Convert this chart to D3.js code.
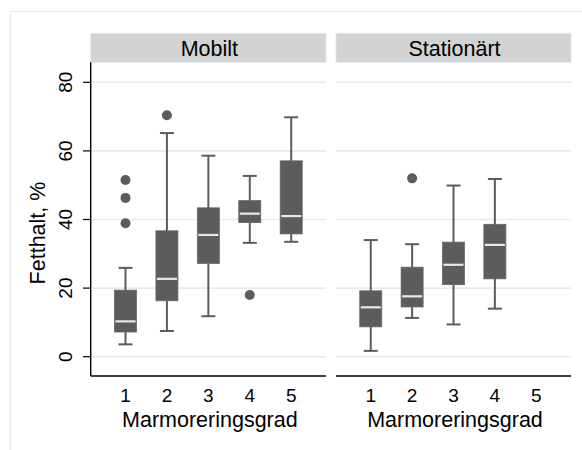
<!DOCTYPE html>
<html>
<head>
<meta charset="utf-8">
<script src="https://cdn.jsdelivr.net/npm/d3@7"></script>
<style>
  html, body { margin: 0; padding: 0; background: #ffffff; }
  svg { display: block; font-family: "Liberation Sans", Arial, sans-serif; }
</style>
</head>
<body>
<svg id="chart" width="582" height="450"></svg>
<script>
// Panels (by-groups) and grades on the x axis
const panels = ["Mobilt", "Stationärt"];
const grades = [1, 2, 3, 4, 5];
const yTicks = [0, 20, 40, 60, 80];

// Box summaries per grade: [lower whisker, Q1, median, Q3, upper whisker]
const mobiltBoxes = [
  [3.6, 7.2, 10.3, 19.4, 25.9],
  [7.5, 16.3, 22.7, 36.7, 65.2],
  [11.8, 27.2, 35.5, 43.4, 58.6],
  [33.2, 39.1, 41.7, 45.5, 52.7],
  [33.5, 35.8, 41.0, 57.1, 69.8]
];
const stationartBoxes = [
  [1.7, 8.7, 14.4, 19.2, 34.0],
  [11.3, 14.5, 17.6, 26.1, 32.8],
  [9.4, 21.0, 26.8, 33.4, 49.9],
  [14.0, 22.7, 32.6, 38.6, 51.8],
  null
];

// Outside values: [grade, value]
const mobiltOutliers = [[1, 51.5], [1, 46.3], [1, 38.9], [2, 70.4], [4, 18.0]];
const stationartOutliers = [[2, 52.0]];

const boxesByPanel = [mobiltBoxes, stationartBoxes];
const outliersByPanel = [mobiltOutliers, stationartOutliers];

const svg = d3.select("#chart");

// outer frame
svg.append("rect")
  .attr("x", 10.5).attr("y", 11.5)
  .attr("width", 700).attr("height", 600)
  .attr("fill", "none").attr("stroke", "#ebebeb").attr("stroke-width", 1.2);

const plotTop = 62.3, plotBottom = 376;
const stripTop = 33.3;
const panelX = [[90.7, 326], [336, 571]];

const y = d3.scaleLinear().domain([0, 80]).range([356.7, 82.3]);

const boxFill = "#5c5c5c";
const medianColor = "#e9e9e9";
const boxW = 22, capW = 14;
const titleSize = 21.5, tickSize = 19;

panels.forEach((name, p) => {
  const [x0, x1] = panelX[p];
  const x = d3.scaleLinear().domain([0.16, 5.84]).range([x0, x1]);
  const g = svg.append("g");

  // strip
  g.append("rect")
    .attr("x", x0).attr("y", stripTop)
    .attr("width", x1 - x0).attr("height", plotTop - stripTop)
    .attr("fill", "#d3d3d3").attr("stroke", "#dbe8ef").attr("stroke-width", 1);
  g.append("text")
    .attr("x", (x0 + x1) / 2 + 1).attr("y", 55.5)
    .attr("text-anchor", "middle")
    .attr("font-size", titleSize).attr("fill", "#000")
    .text(name);

  // grid
  g.selectAll("line.grid").data(yTicks).join("line")
    .attr("class", "grid")
    .attr("x1", x0).attr("x2", x1)
    .attr("y1", d => y(d)).attr("y2", d => y(d))
    .attr("stroke", "#eaeaea").attr("stroke-width", 1.6);

  // x axis line and labels
  g.append("line")
    .attr("x1", x0).attr("x2", x1)
    .attr("y1", plotBottom).attr("y2", plotBottom)
    .attr("stroke", "#000").attr("stroke-width", 1.4);
  g.selectAll("text.xt").data(grades).join("text")
    .attr("class", "xt")
    .attr("x", d => x(d)).attr("y", 402)
    .attr("text-anchor", "middle")
    .attr("font-size", tickSize).attr("fill", "#000")
    .text(d => d);
  g.append("text")
    .attr("x", (x0 + x1) / 2 + 1.5).attr("y", 426.5)
    .attr("text-anchor", "middle")
    .attr("font-size", titleSize).attr("fill", "#000")
    .text("Marmoreringsgrad");

  // boxes
  const data = boxesByPanel[p]
    .map((b, i) => ({ grade: grades[i], b }))
    .filter(d => d.b);

  const bg = g.selectAll("g.box").data(data).join("g").attr("class", "box");
  // whiskers
  bg.append("line")
    .attr("x1", d => x(d.grade)).attr("x2", d => x(d.grade))
    .attr("y1", d => y(d.b[0])).attr("y2", d => y(d.b[4]))
    .attr("stroke", boxFill).attr("stroke-width", 2);
  bg.append("line")
    .attr("x1", d => x(d.grade) - capW / 2).attr("x2", d => x(d.grade) + capW / 2)
    .attr("y1", d => y(d.b[0])).attr("y2", d => y(d.b[0]))
    .attr("stroke", boxFill).attr("stroke-width", 2);
  bg.append("line")
    .attr("x1", d => x(d.grade) - capW / 2).attr("x2", d => x(d.grade) + capW / 2)
    .attr("y1", d => y(d.b[4])).attr("y2", d => y(d.b[4]))
    .attr("stroke", boxFill).attr("stroke-width", 2);
  // box body
  bg.append("rect")
    .attr("x", d => x(d.grade) - boxW / 2)
    .attr("y", d => y(d.b[3]))
    .attr("width", boxW)
    .attr("height", d => y(d.b[1]) - y(d.b[3]))
    .attr("fill", boxFill).attr("stroke", "#666").attr("stroke-width", 0.8);
  // median
  bg.append("line")
    .attr("x1", d => x(d.grade) - boxW / 2 + 1).attr("x2", d => x(d.grade) + boxW / 2 - 1)
    .attr("y1", d => y(d.b[2])).attr("y2", d => y(d.b[2]))
    .attr("stroke", medianColor).attr("stroke-width", 2.2);

  // outside values
  g.selectAll("circle.out").data(outliersByPanel[p]).join("circle")
    .attr("class", "out")
    .attr("cx", d => x(d[0])).attr("cy", d => y(d[1]))
    .attr("r", 5)
    .attr("fill", boxFill);
});

// y axis (left panel only)
const ax = svg.append("g");
ax.append("line")
  .attr("x1", 90.7).attr("x2", 90.7)
  .attr("y1", plotTop).attr("y2", plotBottom)
  .attr("stroke", "#000").attr("stroke-width", 1.4);
ax.selectAll("line.yt").data(yTicks).join("line")
  .attr("class", "yt")
  .attr("x1", 83).attr("x2", 90.7)
  .attr("y1", d => y(d)).attr("y2", d => y(d))
  .attr("stroke", "#000").attr("stroke-width", 1.2);
ax.selectAll("text.yl").data(yTicks).join("text")
  .attr("class", "yl")
  .attr("transform", d => `translate(72,${y(d)}) rotate(-90)`)
  .attr("text-anchor", "middle")
  .attr("font-size", tickSize).attr("fill", "#000")
  .text(d => d);
ax.append("text")
  .attr("transform", "translate(45,233) rotate(-90)")
  .attr("text-anchor", "middle")
  .attr("font-size", titleSize).attr("fill", "#000")
  .text("Fetthalt, %");
</script>
</body>
</html>
